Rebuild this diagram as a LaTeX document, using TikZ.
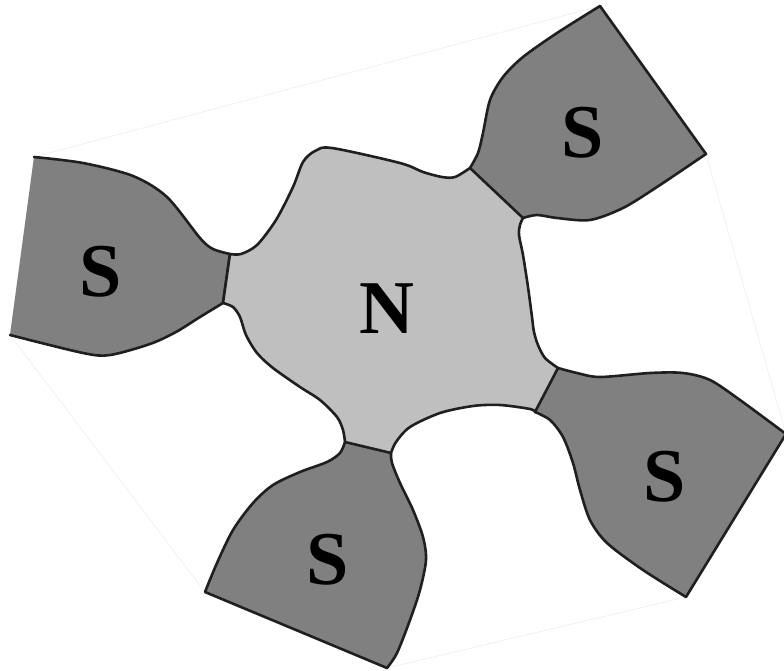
\documentclass[tikz,border=0pt]{standalone}
\usepackage{fontspec}
\setmainfont{Liberation Serif}
\begin{document}
\begin{tikzpicture}[x=1pt,y=-1pt,
  edge/.style={draw=black!88,line width=2.6pt,line join=round,line cap=round},
  sregion/.style={edge,fill=black!50},
  nregion/.style={edge,fill=black!25},
  hull/.style={draw=black!8,line width=0.5pt},
  lab/.style={inner sep=0pt,font=\fontsize{76}{76}\selectfont\bfseries}]
\useasboundingbox (0,0) rectangle (784,671);

% faint outer hull
\draw[hull] (34,157) -- (600,6) -- (706,154) -- (786,434) -- (686,597)
  -- (387,668) -- (205,592) -- (10,335) -- cycle;

% junction points between N and the S lobes
\coordinate (j1a) at (230,254); \coordinate (j1b) at (223,303);
\coordinate (j2a) at (470,168); \coordinate (j2b) at (523,218);
\coordinate (j3a) at (558,368); \coordinate (j3b) at (535,412);
\coordinate (j4a) at (391,453); \coordinate (j4b) at (345,442);

% S lobes: open paths, so the straight outer side is filled but not stroked
\path[sregion] plot[smooth] coordinates {(34,157) (83,163) (133,176) (167,197)
    (200,238) (213,249) (230,254)}
  -- (j1b)
  -- plot[smooth] coordinates {(223,303) (200,317) (176,332) (150,344) (110,355)
    (83,353) (10,335)};

\path[sregion] plot[smooth] coordinates {(470,168) (478,153) (483,133) (490,100)
    (503,77) (523,57) (557,33) (600,6)}
  -- (706,154)
  -- plot[smooth] coordinates {(706,154) (657,187) (623,208) (590,220) (557,218)
    (537,215) (523,218)};

\path[sregion] plot[smooth] coordinates {(558,368) (577,373) (600,377) (650,373)
    (683,373) (710,380) (740,400) (786,434)}
  -- (686,597)
  -- plot[smooth] coordinates {(686,597) (643,570) (607,543) (590,520) (580,490)
    (573,463) (563,437) (550,420) (535,412)};

\path[sregion] plot[smooth] coordinates {(391,453) (392,463) (400,483) (413,510)
    (423,537) (426,560) (420,590) (410,620) (397,653) (387,668)}
  -- (205,592)
  -- plot[smooth] coordinates {(205,592) (217,563) (233,530) (253,503) (273,485)
    (300,472) (327,462) (340,453) (345,442)};

% central N region
\path[nregion] (j1a)
  -- plot[smooth] coordinates {(230,254) (241,254) (257,245) (276,220) (293,187)
    (303,162) (315,151) (332,148) (400,163) (423,172) (442,177) (455,177) (470,168)}
  -- (j2b)
  -- plot[smooth] coordinates {(523,218) (520,225) (519,235) (523,255) (528,287)
    (532,317) (534,332) (538,345) (545,358) (558,368)}
  -- (j3b)
  -- plot[smooth] coordinates {(535,412) (530,409) (500,405) (473,406) (440,413)
    (410,427) (396,442) (391,453)}
  -- (j4b)
  -- plot[smooth] coordinates {(345,442) (343,430) (337,417) (320,400) (300,387)
    (273,368) (257,353) (246,335) (240,317) (233,307) (223,303)}
  -- cycle;

% labels
\node[lab] (n)  at (387,309) {N};
\node[lab] (s1) at (101,272) {S};
\node[lab] (s2) at (583,133) {S};
\node[lab] (s3) at (665,477) {S};
\node[lab] (s4) at (328,560) {S};
\end{tikzpicture}
\end{document}
